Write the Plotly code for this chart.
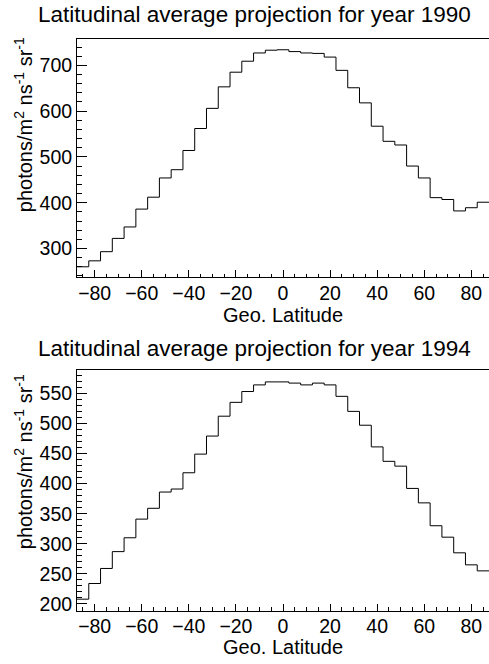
import plotly.graph_objects as go
import numpy as np

lat_centers = [-85, -80, -75, -70, -65, -60, -55, -50, -45, -40, -35, -30, -25, -20, -15, -10, -5,
               0, 5, 10, 15, 20, 25, 30, 35, 40, 45, 50, 55, 60, 65, 70, 75, 80, 85]
bin_width = 5

flux_1990 = [260, 273, 293, 322, 347, 386, 412, 454, 472, 514, 562, 606, 653, 685, 709, 727, 733,
             734, 730, 727, 726, 718, 689, 651, 618, 567, 534, 526, 480, 454, 411, 407, 382, 389, 401]
flux_1994 = [208, 234, 259, 287, 310, 341, 359, 386, 391, 418, 449, 479, 512, 535, 553, 564, 569,
             569, 567, 564, 567, 564, 545, 520, 497, 461, 437, 429, 392, 368, 330, 311, 285, 265, 255]

titles = ["Latitudinal average projection for year 1990",
          "Latitudinal average projection for year 1994"]
x_title = "Geo. Latitude"
y_title = "photons/m<sup>2</sup> ns<sup>-1</sup> sr<sup>-1</sup>"

W, H = 489, 664
FONT = "Liberation Sans, Arial, Helvetica, sans-serif"

def edges_and_vals(centers, vals):
    c = np.array(centers, dtype=float)
    e = list(c - bin_width / 2) + [c[-1] + bin_width / 2]
    v = list(vals) + [vals[-1]]
    return e, v

fig = go.Figure()
for i, vals in enumerate([flux_1990, flux_1994]):
    e, v = edges_and_vals(lat_centers, vals)
    fig.add_trace(go.Scatter(x=e, y=v, mode="lines", line=dict(shape="hv", color="#000000", width=1),
                             xaxis="x" if i == 0 else "x2", yaxis="y" if i == 0 else "y2",
                             showlegend=False, hoverinfo="skip"))

# pixel geometry (top-left origin)
top_dom_px = (39, 279)
bot_dom_px = (372.7, 614.3)
def dom(px):
    return [1 - px[1] / H, 1 - px[0] / H]

x_common = dict(range=[-87.5, 87.5], showline=True, linecolor="#000", linewidth=1, mirror=True,
                ticks="inside", ticklen=7, tickcolor="#000", dtick=20, tick0=0,
                minor=dict(dtick=5, ticks="inside", ticklen=3.5, tickcolor="#000"),
                showgrid=False, zeroline=False, ticklabelstandoff=-2,
                tickfont=dict(family=FONT, size=19.5, color="#000"))
y_common = dict(showline=True, linecolor="#000", linewidth=1, mirror=False,
                ticks="inside", ticklen=10, tickcolor="#000",
                showgrid=False, zeroline=False,
                tickfont=dict(family=FONT, size=19.5, color="#000"))

fig.update_layout(
    width=W, height=H, margin=dict(l=77, r=0, t=0, b=0),
    paper_bgcolor="white", plot_bgcolor="white",
    xaxis=dict(**x_common, domain=[0, 1], anchor="y"),
    yaxis=dict(**y_common, domain=dom(top_dom_px), anchor="x", range=[237, 758], dtick=100,
               minor=dict(dtick=20, ticks="inside", ticklen=5, tickcolor="#000")),
    xaxis2=dict(**x_common, domain=[0, 1], anchor="y2"),
    yaxis2=dict(**y_common, domain=dom(bot_dom_px), anchor="x2", range=[189, 588], dtick=50,
                minor=dict(dtick=10, ticks="inside", ticklen=5, tickcolor="#000")),
)

def px_to_paper_x(px):
    return (px - 77) / (W - 77)

def px_to_paper_y(py):
    return 1 - py / H

anns = []
for t, ty in zip(titles, [15, 351]):
    anns.append(dict(text=t, x=px_to_paper_x(254), y=px_to_paper_y(ty), xref="paper", yref="paper",
                     xanchor="center", yanchor="middle", showarrow=False,
                     font=dict(family=FONT, size=22.5, color="#000")))
for ty in [317, 651]:
    anns.append(dict(text=x_title, x=px_to_paper_x(283), y=px_to_paper_y(ty), xref="paper", yref="paper",
                     xanchor="center", yanchor="middle", showarrow=False,
                     font=dict(family=FONT, size=20, color="#000")))
for ty in [126, 465]:
    anns.append(dict(text=y_title, x=px_to_paper_x(23), y=px_to_paper_y(ty), xref="paper", yref="paper",
                     xanchor="center", yanchor="middle", showarrow=False, textangle=-90,
                     font=dict(family=FONT, size=20, color="#000")))
fig.update_layout(annotations=anns)

fig.write_html("out.html")
